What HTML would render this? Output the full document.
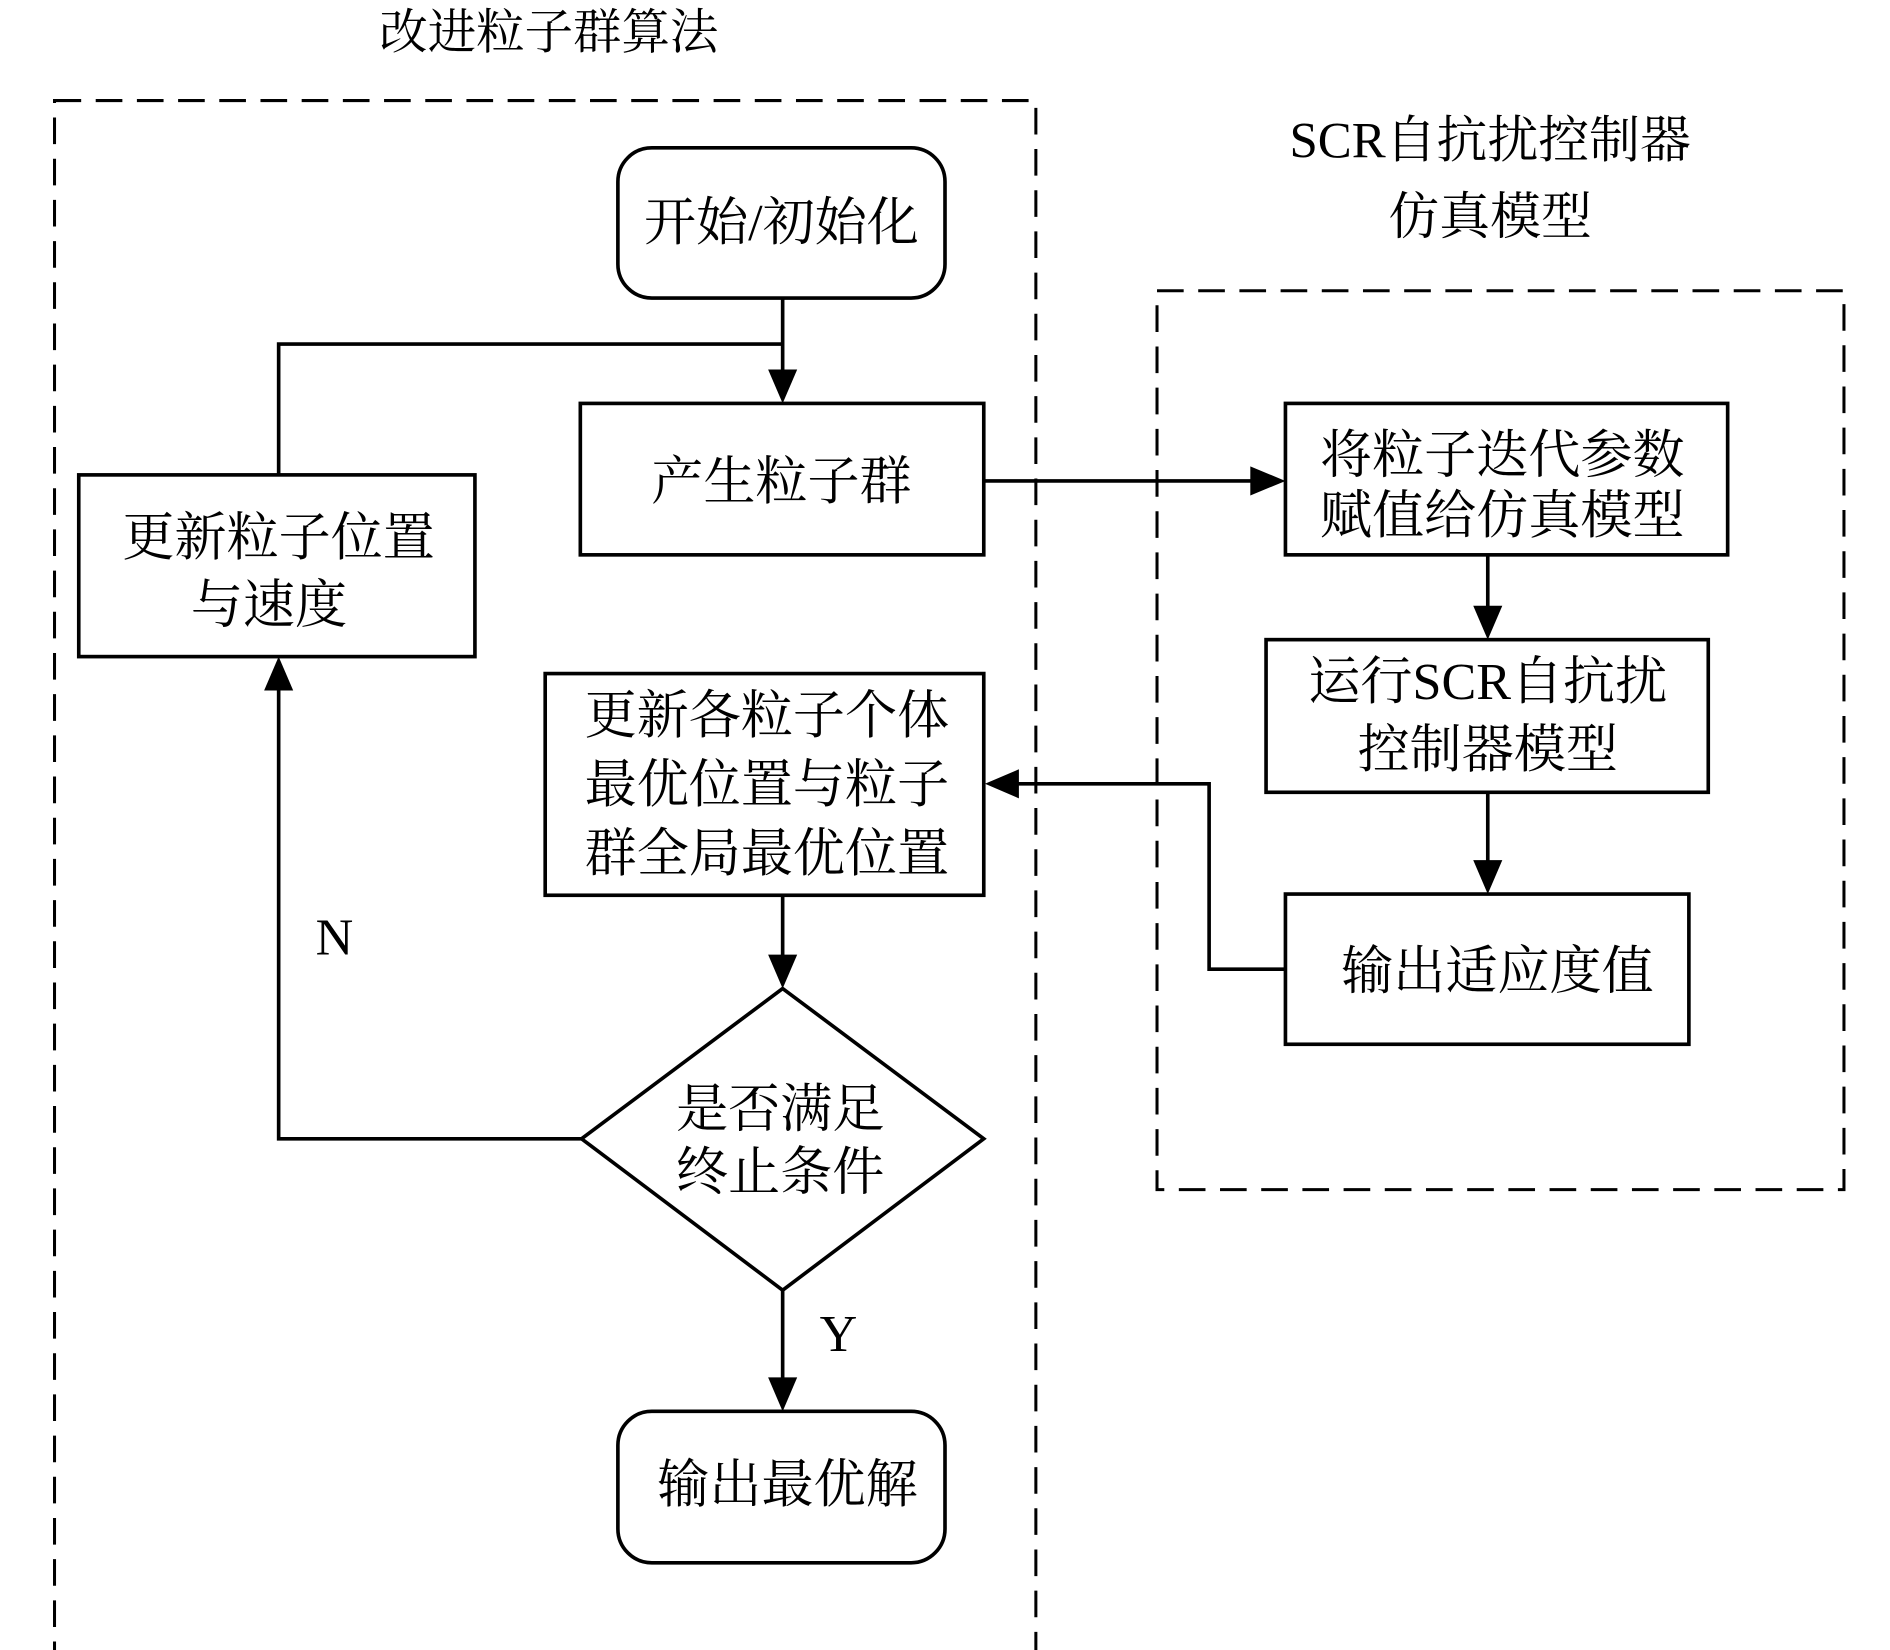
<!DOCTYPE html>
<html><head><meta charset="utf-8"><style>
html,body{margin:0;padding:0;background:#fff;}
svg{display:block;}
text{font-family:"Liberation Serif","Noto Serif CJK SC",serif;fill:#000;}
</style></head><body>
<svg width="1890" height="1650" viewBox="0 0 1560 1362" preserveAspectRatio="none" xmlns="http://www.w3.org/2000/svg">
<defs>
<marker id="a" markerWidth="10" markerHeight="10" refX="10" refY="5" orient="auto" markerUnits="userSpaceOnUse" viewBox="0 0 10 10">
</marker>
</defs>
<g fill="none" stroke="#000" stroke-width="2.5" stroke-dasharray="22,12">
<rect x="45" y="83" width="810" height="1282"/>
<rect x="955" y="240" width="567" height="742"/>
</g>
<text x="453" y="40" font-size="40" text-anchor="middle">改进粒子群算法</text>
<text x="1230" y="130" font-size="42" text-anchor="middle">SCR自抗扰控制器</text>
<text x="1230" y="193" font-size="42" text-anchor="middle">仿真模型</text>
<g fill="none" stroke="#000" stroke-width="3">
<rect x="510" y="122" width="270" height="124" rx="28"/>
<rect x="479" y="333" width="333" height="125"/>
<rect x="65" y="392" width="327" height="150"/>
<rect x="1061" y="333" width="365" height="125"/>
<rect x="1045" y="528" width="365" height="126"/>
<rect x="1061" y="738" width="333" height="124"/>
<rect x="450" y="556" width="362" height="183"/>
<polygon points="646,816 812,940 646,1065 480,940"/>
<rect x="510" y="1165" width="270" height="125" rx="28"/>
<polyline points="646,246 646,312"/>
<polyline points="230,392 230,284 646,284"/>
<polyline points="812,397 1038,397"/>
<polyline points="1228,458 1228,507"/>
<polyline points="1228,654 1228,717"/>
<polyline points="1061,800 998,800 998,647 835,647"/>
<polyline points="646,739 646,795"/>
<polyline points="480,940 230,940 230,563"/>
<polyline points="646,1065 646,1144"/>
</g>
<g fill="#000">
<polygon points="634,305 658,305 646,333"/>
<polygon points="1032,385 1032,409 1061,397"/>
<polygon points="1216,500 1240,500 1228,528"/>
<polygon points="1216,710 1240,710 1228,738"/>
<polygon points="841,635 841,659 813,647"/>
<polygon points="634,788 658,788 646,816"/>
<polygon points="218,570 242,570 230,542"/>
<polygon points="634,1137 658,1137 646,1165"/>
</g>
<g font-size="43" text-anchor="middle">
<text x="645" y="198">开始/初始化</text>
<text x="645" y="412">产生粒子群</text>
<text x="230" y="458">更新粒子位置</text>
<text x="222" y="514">与速度</text>
<text x="1240" y="390">将粒子迭代参数</text>
<text x="1240" y="440">赋值给仿真模型</text>
<text x="1228" y="577">运行SCR自抗扰</text>
<text x="1228" y="633">控制器模型</text>
<text x="1236" y="816">输出适应度值</text>
<text x="633" y="605">更新各粒子个体</text>
<text x="633" y="662">最优位置与粒子</text>
<text x="633" y="719">群全局最优位置</text>
<text x="644" y="930">是否满足</text>
<text x="644" y="982">终止条件</text>
<text x="650" y="1240">输出最优解</text>
<text x="276" y="788">N</text>
<text x="692" y="1115">Y</text>
</g>
</svg>
</body></html>
